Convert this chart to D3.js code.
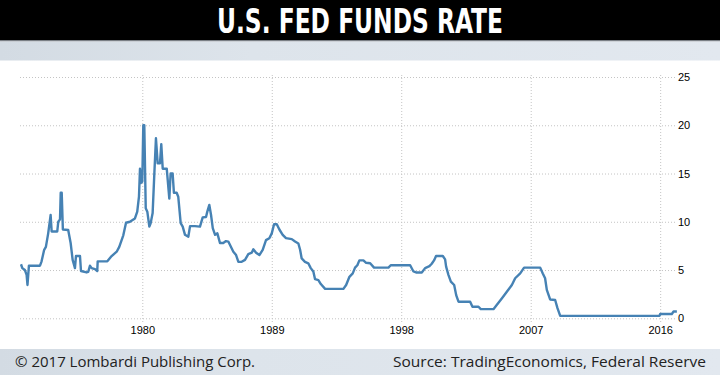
<!DOCTYPE html>
<html>
<head>
<meta charset="utf-8">
<script src="https://cdn.jsdelivr.net/npm/d3@7"></script>
<style>
  body { margin: 0; background: #fff; }
  svg { display: block; }
</style>
</head>
<body>
<div id="chart"></div>
<script>
// effective fed funds rate (decimal year, percent)
const years = [
  1971.57, 1971.66, 1971.84, 1971.96, 1972.02, 1972.12, 1972.89, 1973.0, 1973.18, 1973.30,
  1973.46, 1973.63, 1973.70, 1974.09, 1974.16, 1974.28, 1974.33, 1974.40, 1974.48, 1974.85,
  1975.02, 1975.16, 1975.32, 1975.39, 1975.67, 1975.74, 1976.13, 1976.24, 1976.36, 1976.48,
  1976.71, 1976.87, 1976.90, 1977.57, 1977.87, 1978.22, 1978.40, 1978.68, 1978.87, 1979.14,
  1979.49, 1979.65, 1979.77, 1979.84, 1979.89, 1980.0, 1980.07, 1980.14, 1980.24, 1980.35,
  1980.49, 1980.58, 1980.72, 1980.83, 1980.95, 1981.07, 1981.23, 1981.32, 1981.42, 1981.70,
  1981.88, 1981.97, 1982.11, 1982.20, 1982.39, 1982.50, 1982.67, 1982.81, 1982.97, 1983.20,
  1983.32, 1983.66, 1984.01, 1984.20, 1984.43, 1984.52, 1984.66, 1984.78, 1984.90, 1985.06,
  1985.22, 1985.40, 1985.63, 1985.82, 1985.98, 1986.33, 1986.52, 1986.68, 1986.91, 1987.14,
  1987.37, 1987.61, 1987.72, 1987.91, 1988.14, 1988.37, 1988.60, 1988.83, 1989.0, 1989.16,
  1989.35, 1989.53, 1989.76, 1989.99, 1990.39, 1990.62, 1990.85, 1990.97, 1991.08, 1991.31,
  1991.54, 1991.71, 1991.89, 1992.01, 1992.24, 1992.41, 1992.71, 1993.98, 1994.17, 1994.40,
  1994.63, 1994.79, 1994.95, 1995.09, 1995.37, 1995.56, 1995.84, 1996.11, 1997.11, 1997.27,
  1998.62, 1998.85, 1999.03, 1999.43, 1999.66, 1999.96, 2000.12, 2000.28, 2000.42, 2000.89,
  2001.05, 2001.12, 2001.28, 2001.45, 2001.68, 2001.82, 2001.98, 2002.79, 2002.95, 2003.37,
  2003.53, 2004.41, 2004.65, 2004.99, 2005.34, 2005.69, 2005.92, 2006.27, 2006.54, 2007.66,
  2007.84, 2008.0, 2008.12, 2008.35, 2008.70, 2008.86, 2009.05, 2015.95, 2016.0, 2016.81,
  2016.93, 2017.16
];
const rates = [
  5.6, 5.2, 5.0, 4.5, 3.45, 5.45, 5.45, 5.9, 7.1, 7.4,
  8.8, 10.7, 9.0, 9.0, 10.0, 10.25, 13.0, 13.0, 9.2, 9.15,
  7.8, 6.05, 5.2, 6.45, 6.45, 4.9, 4.75, 4.8, 5.45, 5.2,
  5.1, 4.9, 5.9, 5.9, 6.45, 6.9, 7.4, 8.6, 9.9, 10.0,
  10.35, 11.05, 12.6, 15.5, 14.0, 14.15, 20.0, 20.0, 11.4, 11.05,
  9.5, 9.85, 10.9, 14.7, 18.65, 16.05, 16.05, 18.05, 15.5, 15.5,
  12.4, 15.0, 15.0, 13.0, 13.0, 12.6, 9.85, 9.5, 8.65, 8.45,
  9.55, 9.55, 9.5, 10.45, 10.5, 11.05, 11.75, 10.7, 9.35, 8.65,
  8.8, 7.8, 7.8, 8.0, 7.95, 6.9, 6.55, 5.85, 5.85, 6.05,
  6.65, 6.8, 7.15, 6.8, 6.55, 7.1, 8.1, 8.3, 8.8, 9.75,
  9.75, 9.2, 8.65, 8.3, 8.2, 7.95, 7.75, 7.1, 6.2, 5.85,
  5.7, 5.2, 4.85, 4.05, 3.95, 3.55, 3.05, 3.05, 3.45, 4.3,
  4.65, 5.25, 5.5, 6.0, 6.0, 5.75, 5.7, 5.25, 5.25, 5.5,
  5.5, 4.85, 4.75, 4.75, 5.2, 5.4, 5.65, 6.0, 6.45, 6.45,
  6.1, 5.35, 4.5, 3.8, 3.45, 2.4, 1.72, 1.72, 1.2, 1.2,
  0.95, 0.95, 1.4, 2.05, 2.75, 3.45, 4.15, 4.65, 5.25, 5.25,
  4.65, 4.15, 2.95, 1.95, 1.9, 1.05, 0.25, 0.25, 0.45, 0.45,
  0.7, 0.7
];
const yearTicks = [1980, 1989, 1998, 2007, 2016];
const rateTicks = [0, 5, 10, 15, 20, 25];
const title = "U.S. FED FUNDS RATE";
const footLeft = "\u00A9 2017 Lombardi Publishing Corp.";
const footRight = "Source: TradingEconomics, Federal Reserve";

const width = 720;
const height = 375;
const margin = { top: 77, right: 45, bottom: 57, left: 20 };

const svg = d3.select("#chart")
    .append("svg")
    .attr("width", width)
    .attr("height", height);

const defs = svg.append("defs");
const grad = defs.append("linearGradient").attr("id", "band");
grad.append("stop").attr("offset", "0%").attr("stop-color", "#d3dbe3");
grad.append("stop").attr("offset", "35%").attr("stop-color", "#dde4eb");
grad.append("stop").attr("offset", "100%").attr("stop-color", "#e2e8ef");

// header
svg.append("rect").attr("width", width).attr("height", 40).attr("fill", "#000");
svg.append("rect").attr("y", 40).attr("width", width).attr("height", 1.5).attr("fill", "#7a7f85");
svg.append("rect").attr("y", 41.5).attr("width", width).attr("height", 19).attr("fill", "url(#band)");
svg.append("text")
    .attr("x", width / 2)
    .attr("y", 33)
    .attr("text-anchor", "middle")
    .attr("fill", "#fff")
    .attr("textLength", 286)
    .attr("lengthAdjust", "spacingAndGlyphs")
    .style("font-family", "'DejaVu Sans Condensed', 'Liberation Sans', sans-serif")
    .style("font-weight", "bold")
    .style("font-size", "34px")
    .text(title);

// footer
svg.append("rect").attr("y", 349).attr("width", width).attr("height", 26).attr("fill", "url(#band)");
svg.append("text")
    .attr("x", 15).attr("y", 367)
    .attr("fill", "#222")
    .attr("textLength", 240)
    .attr("lengthAdjust", "spacingAndGlyphs")
    .style("font-family", "'Open Sans', sans-serif")
    .style("font-size", "15px")
    .text(footLeft);
svg.append("text")
    .attr("x", 393).attr("y", 367)
    .attr("fill", "#222")
    .attr("textLength", 313)
    .attr("lengthAdjust", "spacingAndGlyphs")
    .style("font-family", "'Open Sans', sans-serif")
    .style("font-size", "15px")
    .text(footRight);

const x = d3.scaleLinear()
    .domain([1971.5, 2017.03])
    .range([margin.left, width - margin.right]);

const y = d3.scaleLinear()
    .domain([0, 25])
    .range([318.3, margin.top]);

// horizontal grid + right labels
svg.append("g")
    .attr("transform", `translate(${width - margin.right}, 0)`)
    .call(d3.axisRight(y).tickValues(rateTicks).tickSize(-(width - margin.left - margin.right)).tickPadding(3))
    .call(g => g.select(".domain").remove())
    .call(g => g.selectAll("line").attr("stroke", "#c4c4c4").attr("stroke-dasharray", "1,2"))
    .call(g => g.selectAll("text").attr("fill", "#000").style("font-family", "'Liberation Sans', Arial, sans-serif").style("font-size", "11px"));

// vertical grid + bottom labels
svg.append("g")
    .attr("transform", `translate(0, 322)`)
    .call(d3.axisBottom(x).tickValues(yearTicks).tickFormat(d3.format("d")).tickSize(-247).tickPadding(4))
    .call(g => g.select(".domain").remove())
    .call(g => g.selectAll("line").attr("stroke", "#c4c4c4").attr("stroke-dasharray", "1,2"))
    .call(g => g.selectAll("text").attr("fill", "#000").style("font-family", "'Liberation Sans', Arial, sans-serif").style("font-size", "11px"));

const series = years.map((d, i) => ({ year: d, rate: rates[i] }));

const line = d3.line()
    .x(d => x(d.year))
    .y(d => y(d.rate));

svg.append("path")
    .datum(series)
    .attr("fill", "none")
    .attr("stroke", "#4682b4")
    .attr("stroke-width", 2.4)
    .attr("stroke-linejoin", "round")
    .attr("d", line);
</script>
</body>
</html>
